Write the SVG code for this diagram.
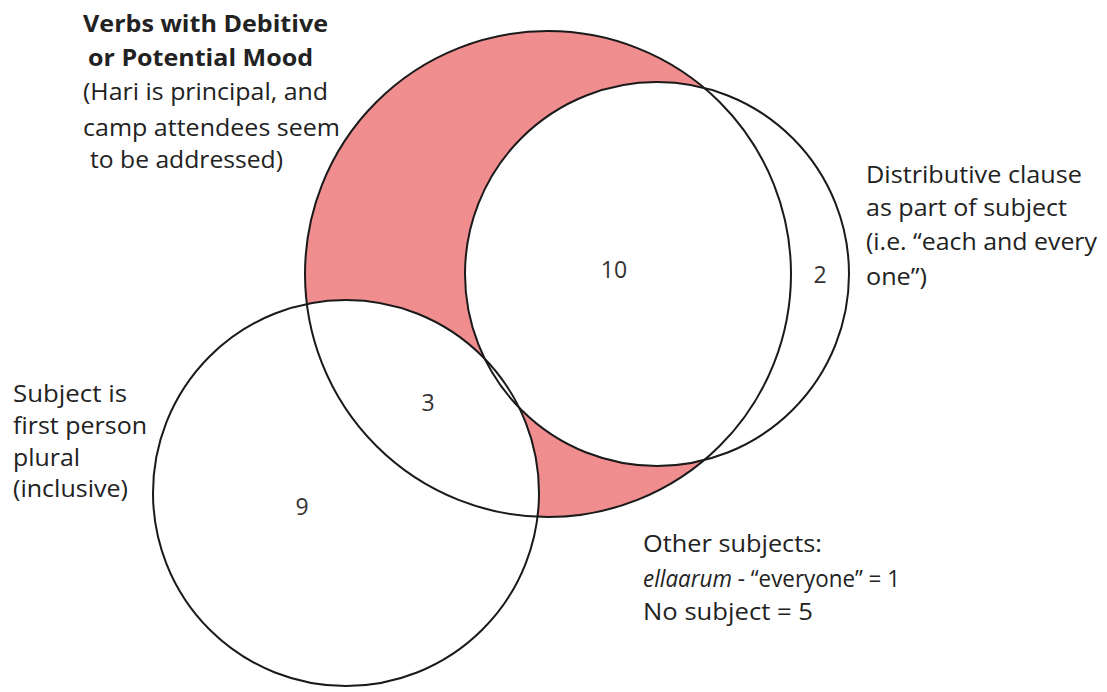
<svg xmlns="http://www.w3.org/2000/svg" width="1107" height="692" viewBox="0 0 1107 692">
<style>
.ring{fill:none;stroke:#1a1a1a;stroke-width:2}
.t{font-family:"Open Sans","Noto Sans","Liberation Sans",sans-serif;font-size:24px;fill:#222}
.b{font-weight:bold}
.n{font-family:"Open Sans","Noto Sans","Liberation Sans",sans-serif;font-size:23px;fill:#333;text-anchor:middle}
</style>
<rect width="1107" height="692" fill="#fff"/>
<g id="fills">
<circle cx="548" cy="274" r="243" fill="#f08d8f"/>
<circle cx="657" cy="274" r="192" fill="#fff"/>
<circle cx="346" cy="493" r="193" fill="#fff"/>
</g>
<g id="node-debitive">
<circle class="ring" cx="548" cy="274" r="243"/>
<text class="t b" x="83" y="32" textLength="245" lengthAdjust="spacingAndGlyphs">Verbs with Debitive</text>
<text class="t b" x="88" y="66" textLength="225" lengthAdjust="spacingAndGlyphs">or Potential Mood</text>
<text class="t" x="83" y="100" textLength="245" lengthAdjust="spacingAndGlyphs">(Hari is principal, and</text>
<text class="t" x="83" y="136" textLength="257" lengthAdjust="spacingAndGlyphs">camp attendees seem</text>
<text class="t" x="90" y="168" textLength="193" lengthAdjust="spacingAndGlyphs">to be addressed)</text>
</g>
<g id="node-distributive">
<circle class="ring" cx="657" cy="274" r="192"/>
<text class="t" x="866" y="183" textLength="216" lengthAdjust="spacingAndGlyphs">Distributive clause</text>
<text class="t" x="866" y="216" textLength="201" lengthAdjust="spacingAndGlyphs">as part of subject</text>
<text class="t" x="866" y="250" textLength="231" lengthAdjust="spacingAndGlyphs">(i.e. “each and every</text>
<text class="t" x="866" y="285" textLength="61" lengthAdjust="spacingAndGlyphs">one”)</text>
</g>
<g id="node-firstperson">
<circle class="ring" cx="346" cy="493" r="193"/>
<text class="t" x="13" y="402" textLength="114" lengthAdjust="spacingAndGlyphs">Subject is</text>
<text class="t" x="13" y="434" textLength="134" lengthAdjust="spacingAndGlyphs">first person</text>
<text class="t" x="13" y="466" textLength="67" lengthAdjust="spacingAndGlyphs">plural</text>
<text class="t" x="13" y="497" textLength="115" lengthAdjust="spacingAndGlyphs">(inclusive)</text>
</g>
<g id="counts">
<text class="n" x="614" y="278">10</text>
<text class="n" x="820" y="283">2</text>
<text class="n" x="428" y="411">3</text>
<text class="n" x="302" y="515">9</text>
</g>
<g id="note-other">
<text class="t" x="643" y="552" textLength="179" lengthAdjust="spacingAndGlyphs">Other subjects:</text>
<text class="t" x="643" y="587" textLength="257" lengthAdjust="spacingAndGlyphs"><tspan font-style="italic">ellaarum</tspan> - “everyone” = 1</text>
<text class="t" x="643" y="620" textLength="170" lengthAdjust="spacingAndGlyphs">No subject = 5</text>
</g>
</svg>
